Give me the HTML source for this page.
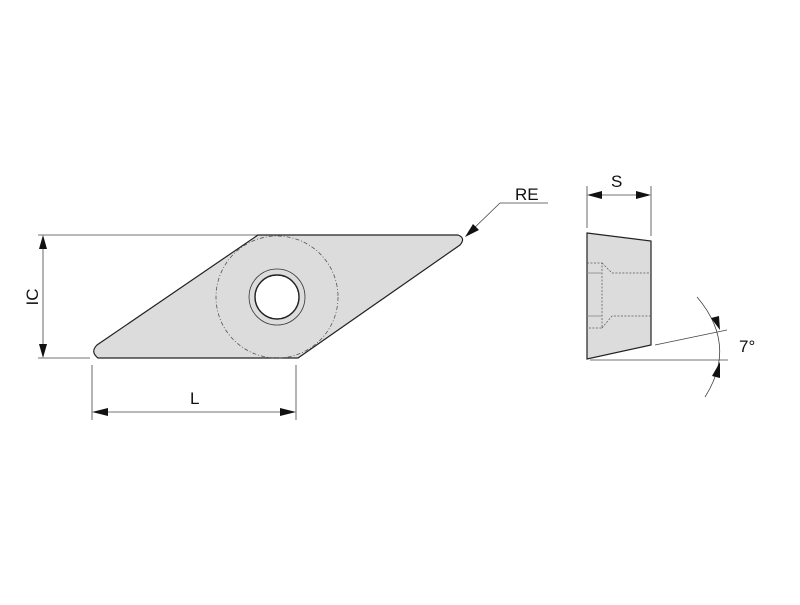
<!DOCTYPE html><html><head><style>body{margin:0;background:#fff}</style></head><body>
<svg width="800" height="600" xmlns="http://www.w3.org/2000/svg" font-family="Liberation Sans, sans-serif">
<rect width="800" height="600" fill="#fff"/>
<g stroke="#444" stroke-width="0.8" fill="none">
<line x1="38" y1="235" x2="258" y2="235"/><line x1="38" y1="358" x2="90" y2="358"/>
<line x1="43" y1="240" x2="43" y2="353"/>
<line x1="92" y1="365" x2="92" y2="420"/><line x1="296" y1="365" x2="296" y2="420"/>
<line x1="96" y1="412" x2="292" y2="412"/>
<polyline points="470,232 500,203 548,203"/>
<line x1="587" y1="186" x2="587" y2="228"/><line x1="651" y1="186" x2="651" y2="236"/>
<line x1="590" y1="195" x2="648" y2="195"/>
<line x1="590" y1="360" x2="728" y2="360"/><line x1="655" y1="345" x2="727" y2="330"/>
<path d="M697 297 Q738 345 705 397"/>
</g>
<path d="M258 235 L458 235 Q466 238 460 245 L298 358 L98 358 Q90 352 97 345 Z" fill="#dcdcdc" stroke="#222" stroke-width="1.2"/>
<circle cx="277" cy="297" r="61" fill="none" stroke="#555" stroke-width="0.8" stroke-dasharray="4,2,1,2"/>
<circle cx="277" cy="297" r="28" fill="none" stroke="#333" stroke-width="0.8"/>
<circle cx="277" cy="297" r="22" fill="#fff" stroke="#222" stroke-width="1.4"/>
<path d="M587 233 L651 241 L651 345 L587 359 Z" fill="#dcdcdc" stroke="#222" stroke-width="1.2"/>
<g stroke="#555" stroke-width="0.7" fill="none" stroke-dasharray="2,1.5">
<polyline points="587,263 602,263 602,328 587,328"/>
<polyline points="602,263 612,273 651,273"/>
<polyline points="602,328 612,316 651,316"/>
</g>
<g stroke="#888" stroke-width="0.8"><line x1="587" y1="273" x2="602" y2="273"/><line x1="587" y1="316" x2="602" y2="316"/></g>
<g fill="#111">
<polygon points="43,235 39,249 47,249"/><polygon points="43,358 39,344 47,344"/>
<polygon points="92,412 108,408 108,416"/><polygon points="296,412 280,408 280,416"/>
<polygon points="465,237 473,224 479,230"/>
<polygon points="587,195 602,191 602,199"/><polygon points="651,195 636,191 636,199"/>
<polygon points="720,330 711,318 719,316"/><polygon points="720,362 712,376 720,378"/>
</g>
<g font-size="17" fill="#111">
<text x="515" y="200">RE</text>
<text x="190" y="404">L</text>
<text x="611" y="187">S</text>
<text x="739" y="352">7°</text>
<text transform="translate(38,297) rotate(-90)" text-anchor="middle">IC</text>
</g>
</svg></body></html>
